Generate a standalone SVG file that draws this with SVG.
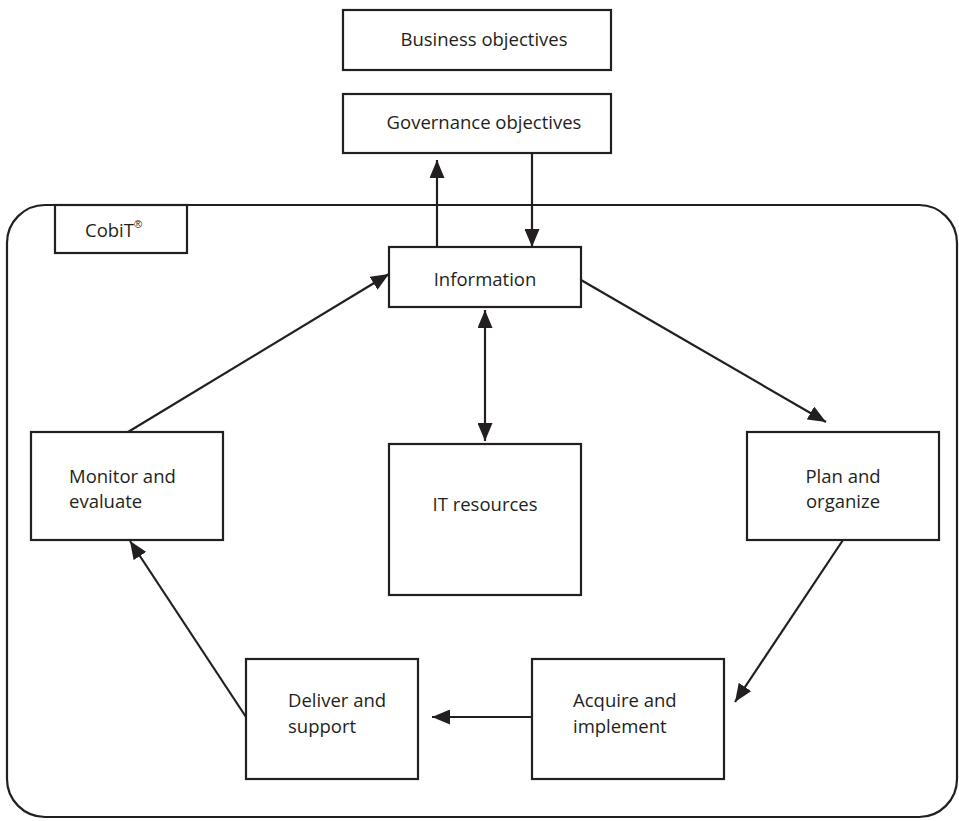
<svg xmlns="http://www.w3.org/2000/svg" width="959" height="821" viewBox="0 0 959 821">
<style>
.box{fill:#fff;stroke:#231f20;stroke-width:2.2}
.t{font-family:"Open Sans","Noto Sans",sans-serif;font-size:18.5px;fill:#231f20}
.c{text-anchor:middle}
.ln{stroke:#231f20;stroke-width:2.2;fill:none}
.sup{font-family:"Liberation Sans",sans-serif;font-size:11px;fill:#231f20}
</style>
<defs>
<marker id="ah" viewBox="0 0 18 15" refX="18" refY="7.5" markerWidth="18" markerHeight="15" markerUnits="userSpaceOnUse" orient="auto-start-reverse">
<path d="M0,0 L18,7.5 L0,15 z" fill="#231f20"/>
</marker>
</defs>
<rect x="7" y="205" width="950" height="612" rx="38" ry="38" class="box"/>
<g id="business"><rect x="343" y="10" width="268" height="60" class="box"/><text x="484" y="46" class="t c">Business objectives</text></g>
<g id="governance"><rect x="343" y="94" width="268" height="59" class="box"/><text x="484" y="129" class="t c">Governance objectives</text></g>
<g id="cobit"><rect x="55" y="205" width="132" height="48" class="box"/><text x="85" y="237" class="t">CobiT<tspan class="sup" dy="-9">®</tspan></text></g>
<g id="information"><rect x="389" y="247" width="192" height="60" class="box"/><text x="485" y="286" class="t c">Information</text></g>
<g id="itresources"><rect x="389" y="444" width="192" height="151" class="box"/><text x="485" y="511" class="t c">IT resources</text></g>
<g id="monitor"><rect x="31" y="432" width="192" height="108" class="box"/><text x="69" y="483" class="t">Monitor and</text><text x="69" y="508" class="t">evaluate</text></g>
<g id="plan"><rect x="747" y="432" width="192" height="108" class="box"/><text x="843" y="483" class="t c">Plan and</text><text x="843" y="508" class="t c">organize</text></g>
<g id="deliver"><rect x="246" y="659" width="172" height="120" class="box"/><text x="288" y="707" class="t">Deliver and</text><text x="288" y="733" class="t">support</text></g>
<g id="acquire"><rect x="532" y="659" width="192" height="120" class="box"/><text x="573" y="707" class="t">Acquire and</text><text x="573" y="733" class="t">implement</text></g>
<g id="connectors">
<line x1="437" y1="247" x2="437" y2="160" class="ln" marker-end="url(#ah)"/>
<line x1="532" y1="153" x2="532" y2="247" class="ln" marker-end="url(#ah)"/>
<line x1="485" y1="310" x2="485" y2="441" class="ln" marker-start="url(#ah)" marker-end="url(#ah)"/>
<line x1="581" y1="280" x2="826" y2="422" class="ln" marker-end="url(#ah)"/>
<line x1="843" y1="540" x2="735" y2="702" class="ln" marker-end="url(#ah)"/>
<line x1="532" y1="717" x2="432" y2="717" class="ln" marker-end="url(#ah)"/>
<line x1="246" y1="717" x2="130" y2="541" class="ln" marker-end="url(#ah)"/>
<line x1="128" y1="432" x2="389" y2="274" class="ln" marker-end="url(#ah)"/>
</g>
</svg>
